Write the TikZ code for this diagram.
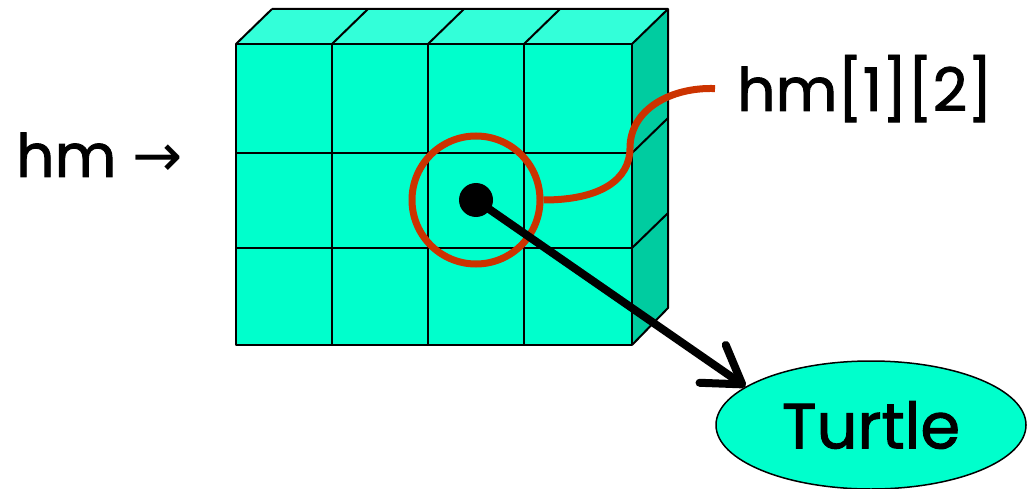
\documentclass[tikz,border=0pt]{standalone}
\usepackage{fontspec}
\setmainfont{Poppins}[FakeBold=1.5]
\newfontfamily\symfont{DejaVu Sans}
\usetikzlibrary{arrows.meta,shapes.geometric}
\definecolor{frontc}{HTML}{00FFCC}
\definecolor{topc}{HTML}{33FFD9}
\definecolor{sidec}{HTML}{00CCA0}
\definecolor{redc}{HTML}{CC3300}
\tikzset{
  edge/.style={draw=black, line width=2pt, line join=round},
  bigtext/.style={font=\fontsize{60}{72}\selectfont, inner sep=0pt},
  ring/.style={circle, draw=redc, line width=7pt, minimum size=128pt, inner sep=0pt},
  blob/.style={circle, fill=black, minimum size=34pt, inner sep=0pt},
  objnode/.style={ellipse, draw=black, line width=1.5pt, fill=frontc, minimum width=310pt, minimum height=128pt, inner sep=0pt, font=\fontsize{64}{76}\selectfont},
  pointer/.style={line width=8pt, line cap=round, -{Straight Barb[length=36pt,width=46pt,round]}},
  callout/.style={draw=redc, line width=7pt}
}
\begin{document}
\begin{tikzpicture}[x=1pt,y=-1pt]
\useasboundingbox (0,0) rectangle (1027,489);
% faces
\fill[topc] (236,44) -- (272,9) -- (668,9) -- (632,44) -- cycle;
\fill[sidec] (632,44) -- (668,9) -- (668,308) -- (632,345) -- cycle;
\fill[frontc] (236,44) rectangle (632,345);
% edges
\draw[edge] (236,44) rectangle (632,345);
\foreach \x in {332,428,524} \draw[edge] (\x,44) -- (\x,345);
\foreach \y in {153,248} \draw[edge] (236,\y) -- (632,\y);
\foreach \x in {236,332,428,524,632} \draw[edge] (\x,44) -- ++(36,-35);
\draw[edge] (272,9) -- (668,9) -- (668,308) -- (632,345);
\foreach \y in {153,248} \draw[edge] (632,\y) -- ++(36,-35);
% labels
\node[bigtext, anchor=base west] (hmlab) at (16,177) {hm {\symfont →}};
\node[bigtext, inner xsep=22pt, anchor=base west] (elemlab) at (715,111) {hm[1][2]};
% object
\node[objnode] (turtle) at (871,425) {Turtle};
% ring and pointer
\node[ring] (ring) at (476,200) {};
\node[blob] (dot) at (476,200) {};
\draw[pointer] (dot.center) -- (turtle.163);
\draw[callout] (ring.east) .. controls (600,200) and (630,180) .. (630,148)
   .. controls (630,110) and (670,87) .. (elemlab.west);
\end{tikzpicture}
\end{document}
